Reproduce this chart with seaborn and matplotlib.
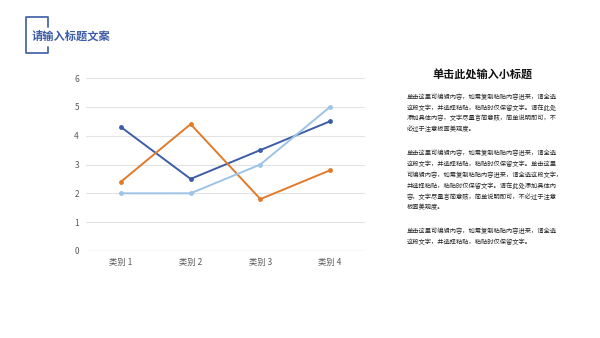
import matplotlib
matplotlib.use("Agg")
import matplotlib.pyplot as plt
import seaborn as sns
import pandas as pd
from matplotlib.lines import Line2D

categories = ["类别 1", "类别 2", "类别 3", "类别 4"]
series_a = [4.3, 2.5, 3.5, 4.5]   # dark blue
series_b = [2.4, 4.4, 1.8, 2.8]   # orange
series_c = [2.0, 2.0, 3.0, 5.0]   # light blue
series_names = ["系列 1", "系列 2", "系列 3"]
y_ticks = [0, 1, 2, 3, 4, 5, 6]

title_text = "请输入标题文案"
subtitle_text = "单击此处输入小标题"
paragraphs = [
    ["单击这里可编辑内容，如需复制粘贴内容进来，请全选",
     "这段文字，并选择粘贴，粘贴时仅保留文字。请在此处",
     "添加具体内容，文字尽量言简意赅，简单说明即可，不",
     "必过于注意板面美观度。"],
    ["单击这里可编辑内容，如需复制粘贴内容进来，请全选",
     "这段文字，并选择粘贴，粘贴时仅保留文字。单击这里",
     "可编辑内容，如需复制粘贴内容进来，请全选这段文字，",
     "并选择粘贴，粘贴时仅保留文字。请在此处添加具体内",
     "容，文字尽量言简意赅，简单说明即可，不必过于注意",
     "板面美观度。"],
    ["单击这里可编辑内容，如需复制粘贴内容进来，请全选",
     "这段文字，并选择粘贴，粘贴时仅保留文字。"],
]

sns.set_theme(style="white")
plt.rcParams["font.family"] = ["Noto Sans CJK SC", "DejaVu Sans"]

W, H = 600, 338
fig = plt.figure(figsize=(6, 3.38), dpi=100)
fig.patch.set_facecolor("white")

# chart axes in pixel coords
left, right, top, bottom = 86, 365, 78, 251
ax = fig.add_axes([left / W, 1 - bottom / H, (right - left) / W, (bottom - top) / H])

df = pd.DataFrame({
    "cat": categories * 3,
    "val": series_a + series_b + series_c,
    "series": [series_names[0]] * 4 + [series_names[1]] * 4 + [series_names[2]] * 4,
})
palette = {series_names[0]: "#3C5DA6", series_names[1]: "#E07B2C", series_names[2]: "#9DC3E6"}
sns.lineplot(data=df, x="cat", y="val", hue="series", palette=palette, marker="o",
             markersize=3.5, markeredgewidth=0, linewidth=1.4, sort=False, ax=ax, legend=False)

ax.set_xlim(-0.5, 3.5)
ax.set_ylim(0, 6)
ax.set_yticks(y_ticks)
ax.set_yticklabels([str(t) for t in y_ticks])
ax.set_xlabel("")
ax.set_ylabel("")
for s in ax.spines.values():
    s.set_visible(False)
ax.grid(axis="y", color="#E3E3E3", linewidth=0.8)
ax.set_axisbelow(True)
ax.axhline(0, color="#D9D9D9", linewidth=0.9, zorder=0)
ax.tick_params(axis="both", length=0, labelsize=6, labelcolor="#595959")
ax.tick_params(axis="y", pad=5)
ax.tick_params(axis="x", pad=5)
ax.set_facecolor("white")

# title bracket
bc = "#4A69AD"
def px(x, y):
    return x / W, 1 - y / H
lines = [
    [(48, 27), (48, 17), (26, 17), (26, 53), (48, 53), (48, 47)],
]
for pts in lines:
    xs = [px(*p)[0] for p in pts]
    ys = [px(*p)[1] for p in pts]
    fig.add_artist(Line2D(xs, ys, color=bc, linewidth=1.3, transform=fig.transFigure))

tx, ty = px(32, 36)
fig.text(tx, ty, title_text, fontsize=8.1, fontweight="bold", color="#3D5CA5",
         ha="left", va="center")

sx, sy = px(483, 74)
fig.text(sx, sy, subtitle_text, fontsize=8, fontweight="bold", color="#111111",
         ha="center", va="center")

para_starts = [96.7, 153.3, 230.7]
line_gap = 10.9
for start, para in zip(para_starts, paragraphs):
    for i, line in enumerate(para):
        lx, ly = px(407, start + i * line_gap)
        fig.text(lx, ly, line, fontsize=4.5, color="#262626", ha="left", va="center")

fig.savefig("out.png", dpi=100, facecolor="white")
